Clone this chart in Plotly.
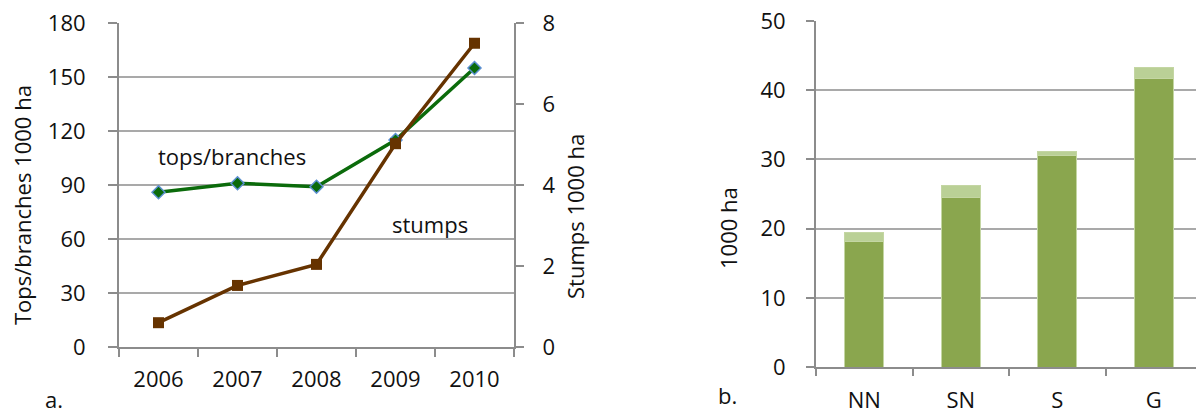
import plotly.graph_objects as go

# Panel a: harvested area by year
years = ["2006", "2007", "2008", "2009", "2010"]
tops_branches = [86, 91, 89, 115, 155]      # 1000 ha, left axis
stumps = [0.6, 1.52, 2.04, 5.02, 7.5]       # 1000 ha, right axis

# Panel b: area by region
regions = ["NN", "SN", "S", "G"]
area_main = [18.1, 24.5, 30.6, 41.7]
area_extra = [1.3, 1.7, 0.6, 1.6]

W, H = 1196, 413
FONT = "Open Sans"
FS = 22
GRID = "#a9a9a9"
AXIS = "#8c8c8c"


def px(x):
    return x / W


def py(y):
    return 1 - y / H


fig = go.Figure()

fig.add_trace(go.Scatter(
    x=years, y=tops_branches, xaxis="x", yaxis="y", mode="lines+markers",
    line=dict(color="#0b6b0b", width=3.5),
    marker=dict(symbol="diamond", size=10, color="#0b6b0b",
                line=dict(color="#5b8fd0", width=1.5)),
    showlegend=False, hoverinfo="skip"))

fig.add_trace(go.Scatter(
    x=years, y=stumps, xaxis="x", yaxis="y2", mode="lines+markers",
    line=dict(color="#663300", width=3.5),
    marker=dict(symbol="square", size=11, color="#663300"),
    showlegend=False, hoverinfo="skip"))

fig.add_trace(go.Bar(
    x=regions, y=area_main, xaxis="x2", yaxis="y3", width=0.4,
    marker=dict(color="#8aa64e", line=dict(color="#c4d6a3", width=1)),
    showlegend=False, hoverinfo="skip"))
fig.add_trace(go.Bar(
    x=regions, y=area_extra, xaxis="x2", yaxis="y3", width=0.4,
    marker=dict(color="#bad096", line=dict(color="#c4d6a3", width=1)),
    showlegend=False, hoverinfo="skip"))

tickfont = dict(family=FONT, size=FS, color="#111111")

fig.update_layout(
    width=W, height=H, margin=dict(l=0, r=0, t=0, b=0, autoexpand=False),
    paper_bgcolor="white", plot_bgcolor="white",
    barmode="stack",
    font=dict(family=FONT, size=FS, color="#111111"),
    xaxis=dict(domain=[px(119), px(514)], anchor="y", type="category",
               range=[-0.5, 4.5], showgrid=False, showline=True,
               linecolor=AXIS, linewidth=2, ticks="outside", ticklen=8,
               tickwidth=2, tickcolor=AXIS, tickson="boundaries",
               tickfont=tickfont, ticklabelstandoff=12, automargin=False),
    yaxis=dict(domain=[py(347), py(23)], anchor="x", range=[0, 180],
               dtick=30, showgrid=True, gridcolor=GRID, gridwidth=2,
               showline=True, linecolor=AXIS, linewidth=2, zeroline=False,
               ticks="outside", ticklen=9, tickwidth=2, tickcolor=AXIS,
               tickfont=tickfont, ticklabelstandoff=18, automargin=False),
    yaxis2=dict(overlaying="y", side="right", anchor="x", range=[0, 8],
                dtick=2, showgrid=False, showline=True, linecolor=AXIS,
                linewidth=2, zeroline=False, ticks="outside", ticklen=8,
                tickwidth=2, tickcolor=AXIS, tickfont=tickfont,
                ticklabelstandoff=14, automargin=False),
    xaxis2=dict(domain=[px(816), 1], anchor="y3", type="category",
                range=[-0.5, 3.5 - 6 / 96.5], showgrid=False, showline=True,
                linecolor=AXIS, linewidth=2, ticks="outside", ticklen=7,
                tickwidth=2, tickcolor=AXIS, tickson="boundaries",
                tickfont=tickfont, ticklabelstandoff=13, automargin=False),
    yaxis3=dict(domain=[py(367), py(21)], anchor="x2", range=[0, 50],
                dtick=10, showgrid=True, gridcolor=GRID, gridwidth=2,
                showline=True, linecolor=AXIS, linewidth=2, zeroline=False,
                ticks="outside", ticklen=8, tickwidth=2, tickcolor=AXIS,
                tickfont=tickfont, ticklabelstandoff=16, automargin=False),
)

ann = dict(xref="paper", yref="paper", showarrow=False,
           xanchor="center", yanchor="middle",
           font=dict(family=FONT, size=FS, color="#111111"))
fig.add_annotation(text="Tops/branches 1000 ha", x=px(22), y=py(205),
                   textangle=-90, **ann)
fig.add_annotation(text="Stumps 1000 ha", x=px(575), y=py(217),
                   textangle=-90, **ann)
fig.add_annotation(text="1000 ha", x=px(728), y=py(228),
                   textangle=-90, **ann)
fig.add_annotation(text="tops/branches", x=px(232), y=py(156), **ann)
fig.add_annotation(text="stumps", x=px(430), y=py(224), **ann)
fig.add_annotation(text="a.", x=px(54), y=py(399), **ann)
fig.add_annotation(text="b.", x=px(727), y=py(395), **ann)

fig.write_html("out.html")
